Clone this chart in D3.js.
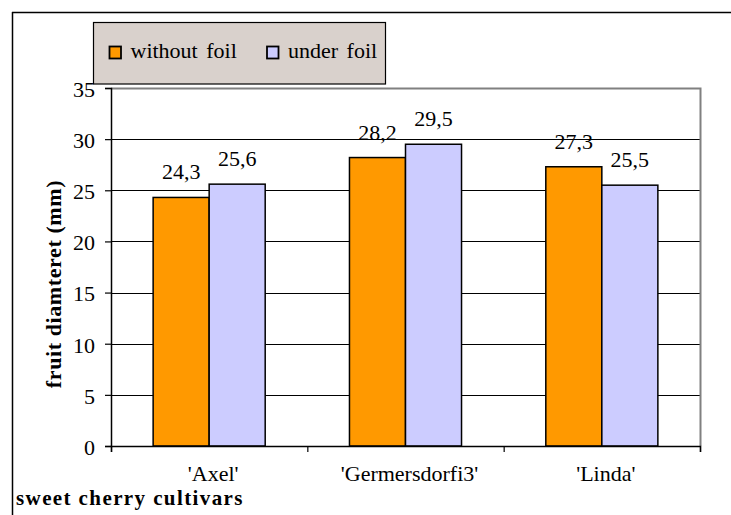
<!DOCTYPE html>
<html>
<head>
<meta charset="utf-8">
<script src="https://cdn.jsdelivr.net/npm/d3@7/dist/d3.min.js"></script>
<style>
  html, body { margin: 0; padding: 0; background: #fff; }
  svg { display: block; }
  svg text { font-family: "Liberation Serif"; }
</style>
</head>
<body>
<svg id="chart" width="731" height="515"></svg>
<script>
const categories = ["'Axel'", "'Germersdorfi3'", "'Linda'"];
const seriesNames = ["without foil", "under foil"];
const withoutFoil = [24.3, 28.2, 27.3];
const underFoil = [25.6, 29.5, 25.5];
const valueLabels = [["24,3", "28,2", "27,3"], ["25,6", "29,5", "25,5"]];
const yTicks = [0, 5, 10, 15, 20, 25, 30, 35];
const colors = ["#FF9900", "#CCCCFF"];
const yTitle = "fruit diamteret (mm)";
const xTitle = "sweet cherry cultivars";

const FONT = '"Liberation Serif"';
const seriesValues = [withoutFoil, underFoil];
const svg = d3.select("#chart");

const L = 111, R = 700, T = 88, B = 446;

// outer frame
svg.append("line").attr("x1", 12).attr("x2", 731).attr("y1", 12.5).attr("y2", 12.5).attr("stroke", "#000").attr("stroke-width", 1.5);
svg.append("line").attr("x1", 12.5).attr("x2", 12.5).attr("y1", 12).attr("y2", 515).attr("stroke", "#000").attr("stroke-width", 1.5);

const y = d3.scaleLinear().domain([0, 35]).range([B, T]);
const x0 = d3.scaleBand().domain(categories).range([L, R]).padding(0);
const x1 = d3.scaleBand().domain(seriesNames).range([0, x0.bandwidth()]).paddingInner(0).paddingOuter(0.752);

svg.append("rect").attr("x", L).attr("y", T).attr("width", R - L).attr("height", B - T).attr("fill", "#fff");

// gridlines
svg.append("g").selectAll("line").data(yTicks.filter(v => v > 0 && v < 35)).join("line")
  .attr("x1", L).attr("x2", R)
  .attr("y1", d => Math.round(y(d)) + 0.5).attr("y2", d => Math.round(y(d)) + 0.5)
  .attr("stroke", "#000").attr("stroke-width", 1);

// plot border (top & right grey)
svg.append("path")
  .attr("d", `M${L},${T + 0.5}H${R + 0.5}V${B}`)
  .attr("fill", "none").attr("stroke", "#808080").attr("stroke-width", 2);

// bars
const rows = categories.map((c, i) => seriesNames.map((s, j) => ({ s, j, v: seriesValues[j][i], lab: valueLabels[j][i] })));
const groups = svg.append("g").selectAll("g").data(categories).join("g")
  .attr("transform", d => `translate(${x0(d)},0)`);
groups.selectAll("rect").data((d, i) => rows[i])
  .join("rect")
  .attr("x", d => x1(d.s)).attr("width", x1.bandwidth())
  .attr("y", d => y(d.v)).attr("height", d => y(0) - y(d.v))
  .attr("fill", d => colors[d.j]).attr("stroke", "#000").attr("stroke-width", 1.5);
groups.selectAll("text").data((d, i) => rows[i])
  .join("text")
  .attr("x", d => x1(d.s) + x1.bandwidth() / 2)
  .attr("y", d => y(d.v) - 18)
  .attr("text-anchor", "middle")
  .style("font-family", FONT).style("font-size", "22px")
  .attr("fill", "#000")
  .text(d => d.lab);

// y axis
const yAxis = svg.append("g").attr("transform", `translate(${L},0)`)
  .call(d3.axisLeft(y).tickValues(yTicks).tickSize(6).tickPadding(10).tickFormat(d3.format("d")));
yAxis.attr("font-family", null);
yAxis.select(".domain").attr("stroke", "#000").attr("stroke-width", 1.5);
yAxis.selectAll(".tick line").attr("stroke", "#000").attr("stroke-width", 1.2);
yAxis.selectAll(".tick text").style("font-family", FONT).style("font-size", "22px").attr("fill", "#000").attr("dy", "0.38em");

// x axis line + boundary ticks
const xb = d3.scaleLinear().domain([0, categories.length]).range([L, R]);
const xAxisTicks = svg.append("g").attr("transform", `translate(0,${B})`)
  .call(d3.axisBottom(xb).ticks(categories.length).tickSize(6).tickFormat(""));
xAxisTicks.select(".domain").attr("stroke", "#000").attr("stroke-width", 1.5);
xAxisTicks.selectAll(".tick line").attr("stroke", "#000").attr("stroke-width", 1.2);

// category labels
const xAxis = svg.append("g").attr("transform", `translate(4,${B})`)
  .call(d3.axisBottom(x0).tickSize(0).tickPadding(19));
xAxis.attr("font-family", null);
xAxis.select(".domain").remove();
xAxis.selectAll(".tick text").style("font-family", FONT).style("font-size", "22px").attr("fill", "#000");

// y title
svg.append("text")
  .attr("transform", `translate(61,284) rotate(-90)`)
  .attr("text-anchor", "middle")
  .style("font-family", FONT).style("font-size", "22px").style("font-weight", "bold")
  .attr("letter-spacing", 0.6)
  .text(yTitle);

// x title
svg.append("text")
  .attr("x", 16).attr("y", 505)
  .style("font-family", FONT).style("font-size", "21px").style("font-weight", "bold")
  .attr("letter-spacing", 1.4)
  .text(xTitle);

// legend
const lg = svg.append("g");
lg.append("rect").attr("x", 93.5).attr("y", 22.5).attr("width", 292).attr("height", 61.5)
  .attr("fill", "#D9D1CC").attr("stroke", "#000").attr("stroke-width", 1.2);
const legX = [109.5, 267];
seriesNames.forEach((s, j) => {
  lg.append("rect").attr("x", legX[j]).attr("y", 46.5).attr("width", 11.5).attr("height", 12)
    .attr("fill", colors[j]).attr("stroke", "#000").attr("stroke-width", 1.8);
  lg.append("text").attr("x", legX[j] + 21).attr("y", 57.5)
    .style("font-family", FONT).style("font-size", "22px").attr("word-spacing", 3)
    .text(s);
});
</script>
</body>
</html>
